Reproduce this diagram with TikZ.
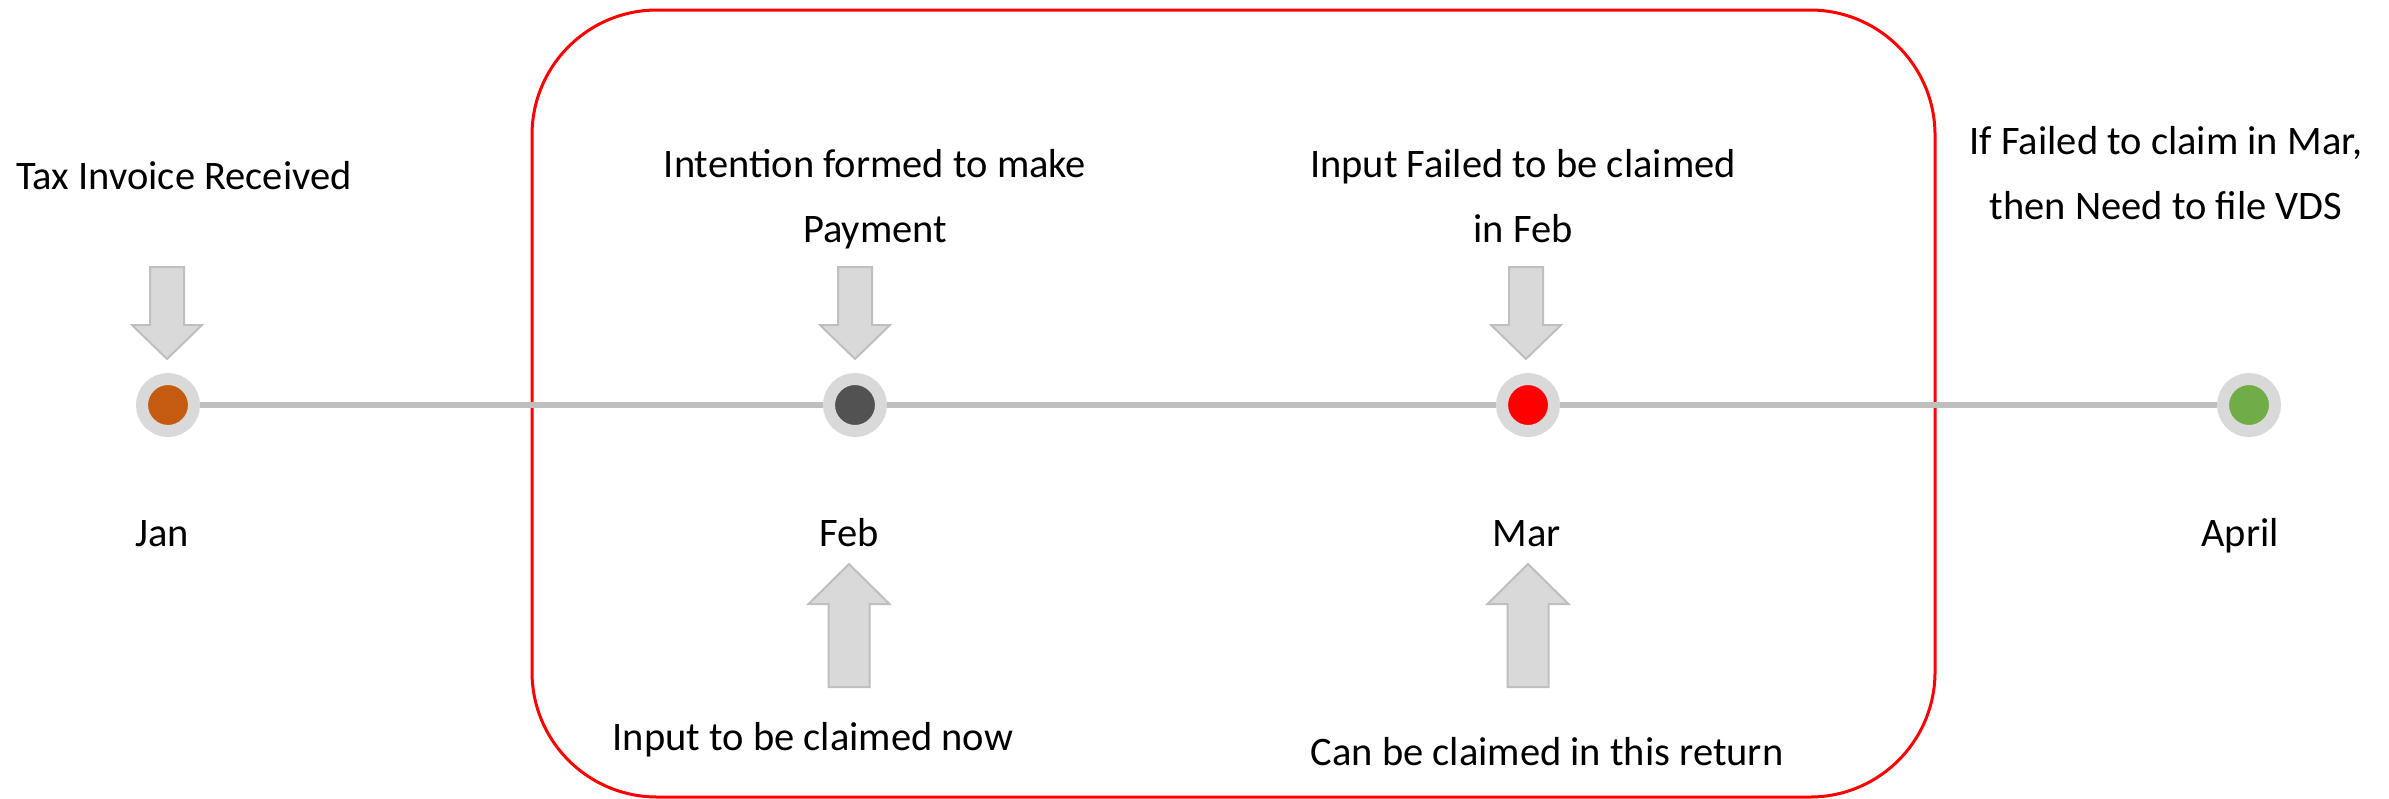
\documentclass[tikz,border=0pt]{standalone}
\usepackage{fontspec}
\setmainfont{Carlito}
\usepackage{tikz}
\usetikzlibrary{positioning}

\definecolor{ringgray}{HTML}{D9D9D9}
\definecolor{linegray}{HTML}{BFBFBF}
\definecolor{janorange}{HTML}{C55A11}
\definecolor{febgray}{HTML}{525252}
\definecolor{aprgreen}{HTML}{70AD47}

\begin{document}
\begin{tikzpicture}[x=1pt, y=-1pt,
                    month dot/.style={circle,draw=ringgray,line width=12pt,minimum size=52pt,inner sep=0pt},
                    time line/.style={draw=linegray,line width=6pt},
                    block arrow/.style={fill=ringgray,draw=linegray,line width=2pt,line join=miter},
                    label/.style={font=\fontsize{40.5}{65}\selectfont,align=center,anchor=base,inner sep=0pt}]

  \useasboundingbox (0,0) rectangle (2389,798);

  % frame round Feb and Mar
  \draw[red, line width=3pt, rounded corners=125pt] (532,10) rectangle (1935,797);

  % the months
  \node[month dot, fill=janorange] (jan) at (168,405) {};
  \node[month dot, fill=febgray] (feb) at (855,405) {};
  \node[month dot, fill=red] (mar) at (1528,405) {};
  \node[month dot, fill=aprgreen] (apr) at (2249,405) {};

  \path[time line] (jan) -- (feb) -- (mar) -- (apr);

  \node[label] (janlbl) at (162,546) {Jan};
  \node[label] (feblbl) at (849,546) {Feb};
  \node[label] (marlbl) at (1527,546) {Mar};
  \node[label] (aprlbl) at (2240,546) {April};

  % notes above (base = last line)
  \node[label] (received) at (184,189) {Tax Invoice Received};
  \node[label] (intention) at (875,242) {Intention formed to make\\Payment};
  \node[label] (failed) at (1523,242) {Input Failed to be claimed\\in Feb};
  \node[label] (vds) at (2166,219) {If Failed to claim in Mar,\\then Need to file VDS};

  % notes below
  \node[label] (claimnow) at (813,750) {Input to be claimed now};
  \node[label] (thisreturn) at (1547,765) {Can be claimed in this return};

  % down arrows
  \foreach \cx in {167,855,1526}
    \draw[block arrow] (\cx-17,267) -- (\cx+17,267) -- (\cx+17,325) -- (\cx+35,325)
      -- (\cx,359) -- (\cx-35,325) -- (\cx-17,325) -- cycle;

  % up arrows
  \foreach \cx in {849,1528}
    \draw[block arrow] (\cx-20.5,687) -- (\cx+20.5,687) -- (\cx+20.5,604) -- (\cx+40.5,604)
      -- (\cx,564) -- (\cx-40.5,604) -- (\cx-20.5,604) -- cycle;

\end{tikzpicture}
\end{document}
